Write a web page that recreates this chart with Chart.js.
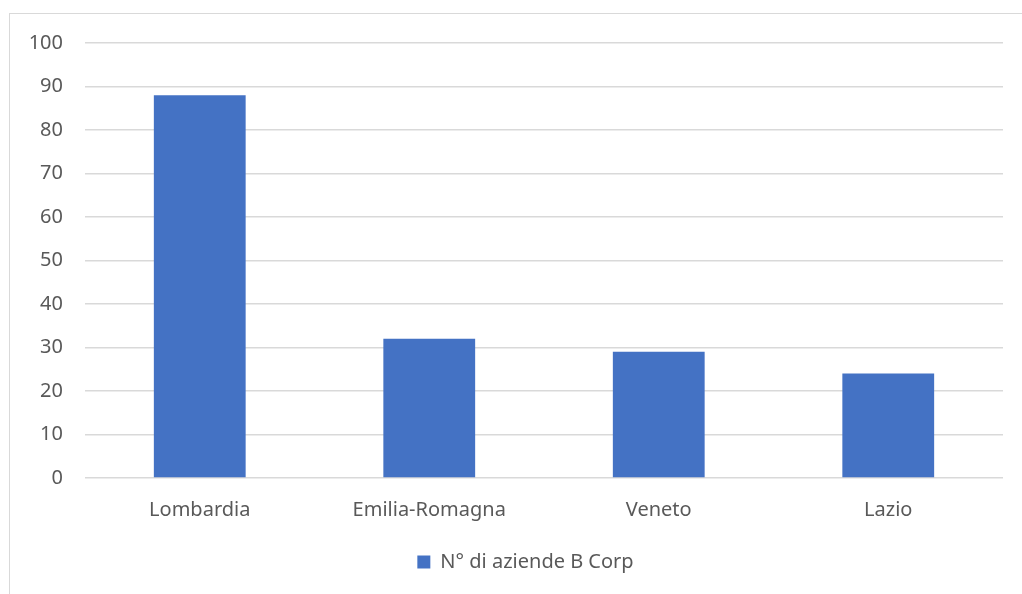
<!DOCTYPE html>
<html>
<head>
<meta charset="utf-8">
<script src="https://cdn.jsdelivr.net/npm/chart.js@4"></script>
<style>
    html, body { margin: 0; padding: 0; background: #fff; overflow: hidden; }
    #frame {
        position: absolute; left: 9px; top: 13px;
        width: 1030px; height: 620px;
        border: 1.5px solid #d9d9d9; box-sizing: border-box;
    }
    #wrap { position: absolute; left: 0; top: 0; width: 1022px; height: 594px; }
</style>
</head>
<body>
<div id="frame"></div>
<div id="wrap"><canvas id="bcorp-chart"></canvas></div>
<script>
const regions = ['Lombardia', 'Emilia-Romagna', 'Veneto', 'Lazio'];
const companyCounts = [88, 32, 29, 24];
const seriesLabel = 'N° di aziende B Corp';

const textColor = '#595959';
const gridColor = '#d9d9d9';
const barColor = '#4472c4';

Chart.defaults.font.family = '"Noto Sans", sans-serif';
Chart.defaults.font.size = 20;
Chart.defaults.color = textColor;

// the original legend sits a little right of centre
const legendShift = {
    id: 'legendShift',
    afterLayout(chart) {
        chart.legend.left += 14;
        chart.legend.right += 14;
    }
};

const ctx = document.getElementById('bcorp-chart');
new Chart(ctx, {
    type: 'bar',
    data: {
        labels: regions,
        datasets: [{
            label: seriesLabel,
            data: companyCounts,
            backgroundColor: barColor,
            borderWidth: 0,
            categoryPercentage: 1,
            barPercentage: 0.4
        }]
    },
    options: {
        responsive: true,
        maintainAspectRatio: false,
        animation: false,
        layout: {
            padding: { left: 20, right: 19, top: 43, bottom: 12 }
        },
        plugins: {
            legend: {
                position: 'bottom',
                labels: {
                    color: textColor,
                    boxWidth: 13,
                    boxHeight: 13,
                    padding: 10
                }
            },
            tooltip: { enabled: false }
        },
        scales: {
            x: {
                grid: { display: false },
                border: { display: false },
                ticks: { color: textColor, padding: 12 },
                afterFit: (scale) => { scale.height = 64; }
            },
            y: {
                min: 0,
                max: 100,
                ticks: { stepSize: 10, color: textColor, padding: 22 },
                grid: { color: gridColor, lineWidth: 1.5, drawTicks: false },
                border: { display: false },
                afterFit: (scale) => { scale.width = 65; }
            }
        }
    },
    plugins: [legendShift]
});
</script>
</body>
</html>
